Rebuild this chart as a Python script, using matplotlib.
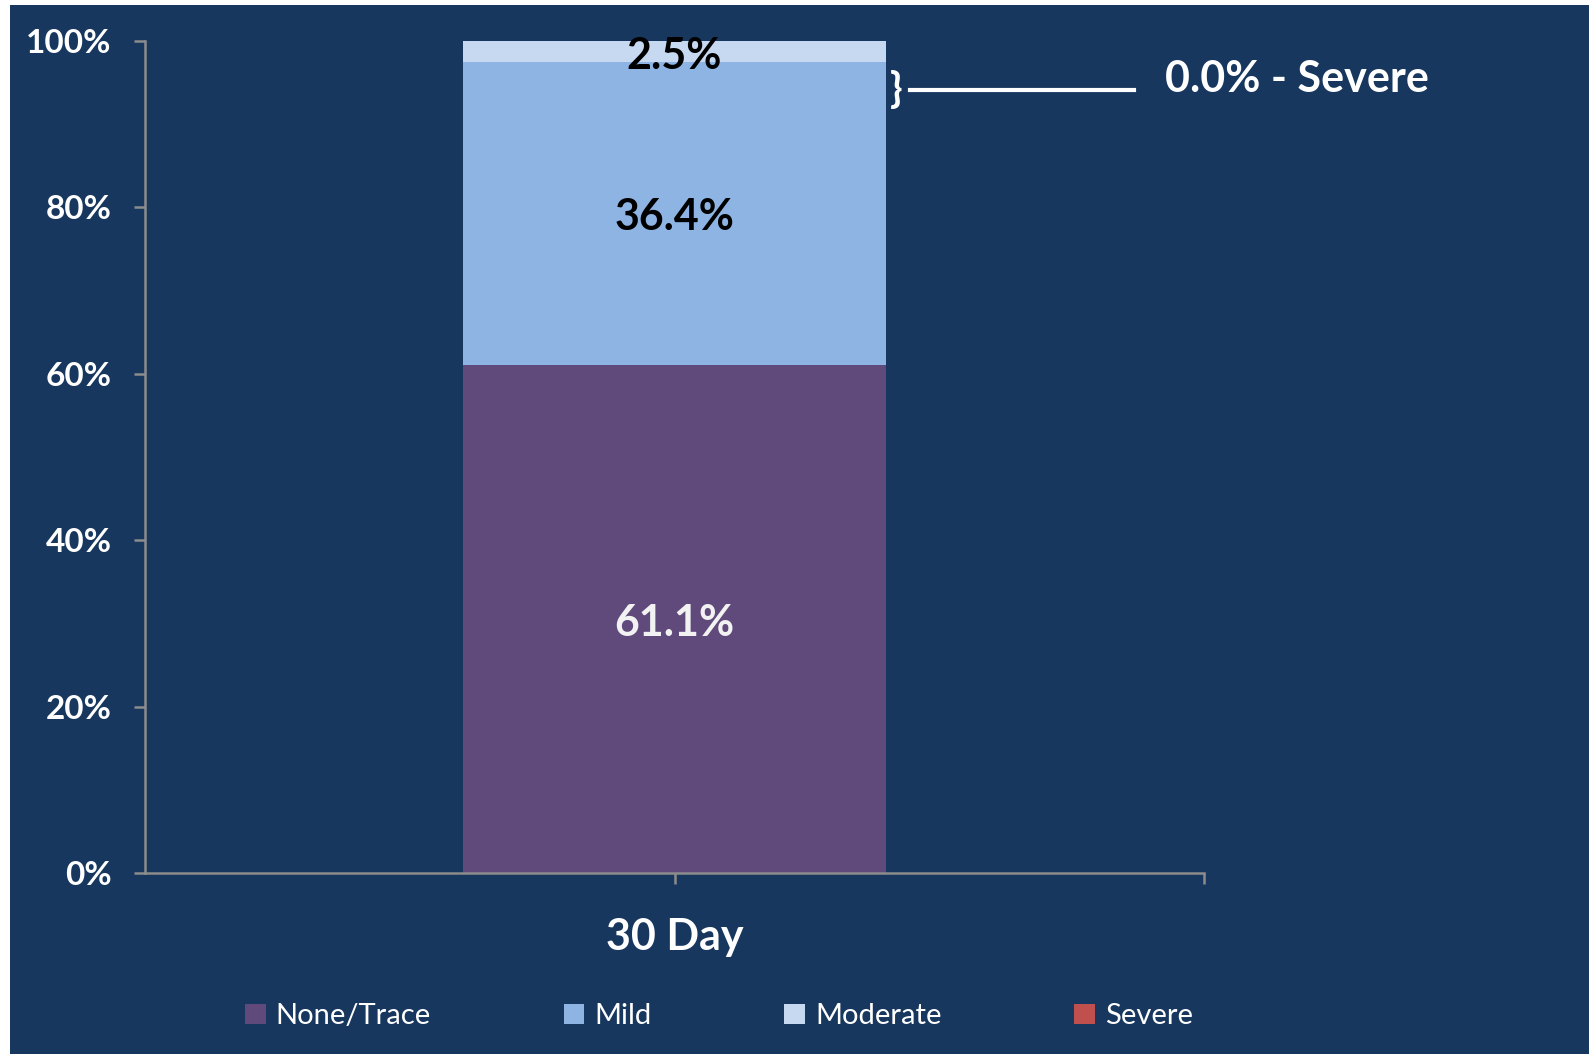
import matplotlib.pyplot as plt
from matplotlib.patches import Rectangle

# stacked shares for the single time point
categories = ["30 Day"]
series_names = ["None/Trace", "Mild", "Moderate", "Severe"]
none_trace = [61.1]
mild = [36.4]
moderate = [2.5]
severe = [0.0]
y_ticks = [0, 20, 40, 60, 80, 100]

bg = "#17375E"
colors = ["#604A7B", "#8EB4E3", "#C6D9F1", "#C0504D"]
label_colors = ["#F2F2F2", "black", "black", "black"]

plt.rcParams["font.family"] = ["Lato", "DejaVu Sans"]

fig = plt.figure(figsize=(15.91, 10.64), dpi=100, facecolor="white")
fig.patches.append(Rectangle((10 / 1591, 1 - 1054 / 1064), 1579 / 1591, 1049 / 1064,
                             transform=fig.transFigure, facecolor=bg, edgecolor="none",
                             zorder=-10))

ax = fig.add_axes([145 / 1591, 1 - 873 / 1064, 1059 / 1591, 832 / 1064])
ax.set_zorder(1)
ax.patch.set_alpha(0)

values = [none_trace, mild, moderate, severe]
x = list(range(len(categories)))
bottom = [0.0] * len(categories)
for name, vals, col, lc in zip(series_names, values, colors, label_colors):
    ax.bar(x, vals, width=0.4, bottom=bottom, color=col, label=name, zorder=2)
    for xi, v, b in zip(x, vals, bottom):
        if name in ("None/Trace", "Mild"):
            ax.text(xi, b + v / 2 - 0.5, f"{v:.1f}%", ha="center", va="center",
                    fontsize=31, fontweight="bold", color=lc, zorder=3)
        elif name == "Moderate":
            ax.text(xi, b + v / 2 - 0.6, f"{v:.1f}%", ha="center", va="center",
                    fontsize=31, fontweight="bold", color=lc, zorder=3)
    bottom = [b + v for b, v in zip(bottom, vals)]

# callout for the empty severe segment
ax.text(0.209, 94.0, "}", ha="center", va="center", fontsize=30,
        fontweight="bold", color="white")
ax.plot([0.222, 0.434], [94.1, 94.1], color="white", lw=3, clip_on=False)
ax.text(0.463, 95.4, f"{severe[0]:.1f}% - Severe", ha="left", va="center",
        fontsize=31, fontweight="bold", color="white")

ax.set_xlim(-0.5, 0.5)
ax.set_ylim(0, 100)
ax.set_yticks(y_ticks)
ax.set_yticklabels([f"{t}%" for t in y_ticks])
ax.set_xticks([0, 0.5])
ax.set_xticklabels([categories[0], ""])

for side in ("top", "right"):
    ax.spines[side].set_visible(False)
for side in ("left", "bottom"):
    ax.spines[side].set_color("#8C8C8C")
    ax.spines[side].set_linewidth(1.8)

ax.tick_params(axis="y", colors="#8C8C8C", length=8, width=1.8, pad=16,
               labelcolor="white", labelsize=24)
ax.tick_params(axis="x", colors="#8C8C8C", length=8, width=1.8, pad=24,
               labelcolor="white", labelsize=31)
for lbl in ax.get_yticklabels() + ax.get_xticklabels():
    lbl.set_fontweight("bold")

leg = ax.legend(loc="center", bbox_to_anchor=(0.542, -0.172), ncol=4, frameon=False,
                fontsize=21, labelcolor="white", handlelength=0.7, handleheight=0.7,
                handletextpad=0.35, columnspacing=4.55)

fig.savefig("out.png", dpi=100, facecolor="white")
